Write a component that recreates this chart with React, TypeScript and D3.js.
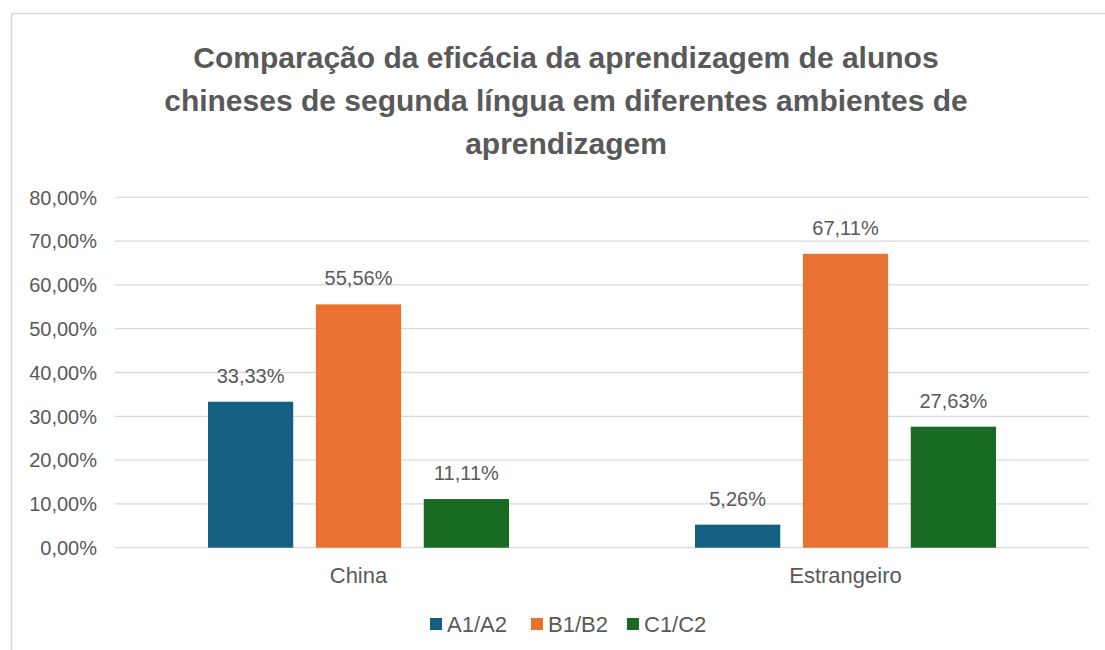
import React from "react";
import * as d3 from "d3";

const categories = ["China", "Estrangeiro"];
const seriesNames = ["A1/A2", "B1/B2", "C1/C2"];
const seriesA = [33.33, 5.26];
const seriesB = [55.56, 67.11];
const seriesC = [11.11, 27.63];
const yTicks = [0, 10, 20, 30, 40, 50, 60, 70, 80];
const colors = ["#156082", "#E97132", "#196B24"];
const titleLines = [
  "Comparação da eficácia da aprendizagem de alunos",
  "chineses de segunda língua em diferentes ambientes de",
  "aprendizagem",
];

const W = 1105;
const H = 650;
const fmt = (v: number) => v.toFixed(2).replace(".", ",") + "%";

export default function App() {
  const left = 115, right = 1089, top = 197.3, bottom = 547.7;
  const x0 = d3.scaleBand<string>().domain(categories).range([left, right]).paddingInner(0).paddingOuter(0);
  const y = d3.scaleLinear().domain([0, 80]).range([bottom, top]);
  const groupW = 301;
  const x1 = d3.scaleBand<string>().domain(seriesNames).range([0, groupW]).paddingInner(0.21).paddingOuter(0);
  const series = [seriesA, seriesB, seriesC];
  const font = "'Liberation Sans', Arial, sans-serif";
  const textColor = "#595959";
  const legendX = [430, 531, 627];

  return (
    <svg width={W} height={H} style={{ position: "absolute", left: 0, top: 0, background: "#fff" }}>
      <rect x={11.5} y={13.5} width={W} height={H} fill="#fff" stroke="#D9D9D9" strokeWidth={1.5} />
      {titleLines.map((t, i) => (
        <text key={i} x={566} y={68 + i * 43} textAnchor="middle" fontFamily={font} fontWeight="bold"
          fontSize={30} fill={textColor}>{t}</text>
      ))}
      {yTicks.map((t) => (
        <g key={t}>
          <line x1={left} x2={right} y1={y(t)} y2={y(t)} stroke="#D9D9D9" strokeWidth={1.3} />
          <text x={97} y={y(t)} dy="0.36em" textAnchor="end" fontFamily={font} fontSize={20} fill={textColor}>
            {fmt(t)}
          </text>
        </g>
      ))}
      {categories.map((c, ci) => {
        const cx = x0(c)! + x0.bandwidth() / 2;
        const gx = cx - groupW / 2;
        return (
          <g key={c}>
            {seriesNames.map((s, si) => {
              const v = series[si][ci];
              const bx = gx + x1(s)!;
              return (
                <g key={s}>
                  <rect x={bx} y={y(v)} width={x1.bandwidth()} height={y(0) - y(v)} fill={colors[si]} />
                  <text x={bx + x1.bandwidth() / 2} y={y(v) - 19} textAnchor="middle" fontFamily={font}
                    fontSize={20} fill={textColor}>{fmt(v)}</text>
                </g>
              );
            })}
            <text x={cx} y={583} textAnchor="middle" fontFamily={font} fontSize={22} fill={textColor}>{c}</text>
          </g>
        );
      })}
      {seriesNames.map((s, i) => (
        <g key={s}>
          <rect x={legendX[i]} y={618} width={12} height={12} fill={colors[i]} />
          <text x={legendX[i] + 17} y={632} fontFamily={font} fontSize={22} fill={textColor}>{s}</text>
        </g>
      ))}
    </svg>
  );
}
